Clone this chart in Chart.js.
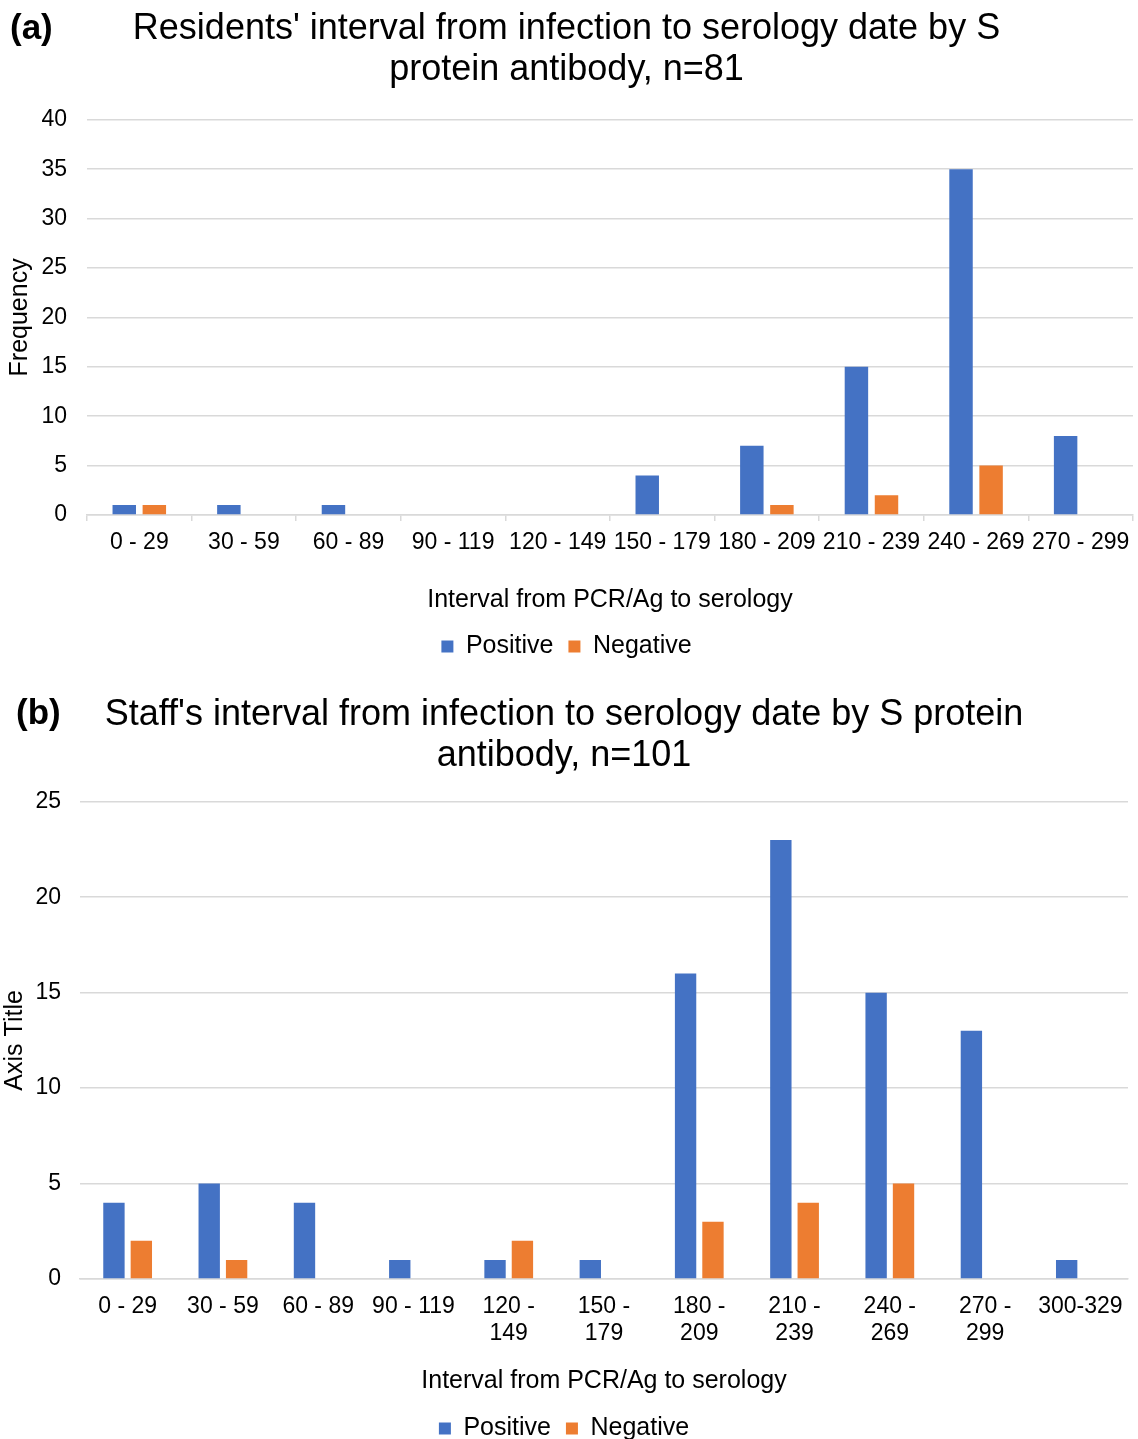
<!DOCTYPE html>
<html>
<head>
<meta charset="utf-8">
<script src="https://cdn.jsdelivr.net/npm/chart.js@4.4.1/dist/chart.umd.min.js"></script>
<style>
    html, body {
        margin: 0;
        padding: 0;
        background: #fff;
        width: 1138px;
        height: 1439px;
        overflow: hidden;
    }
    .wrap {
        position: absolute;
        left: 0;
        width: 1138px;
    }
</style>
</head>
<body>
<div class="wrap" style="top:0;height:669px"><canvas id="residentsChart"></canvas></div>
<div class="wrap" style="top:680px;height:771px"><canvas id="staffChart"></canvas></div>

<script>
// residents (a)
const residentLabels = [
    "0 - 29", "30 - 59", "60 - 89", "90 - 119", "120 - 149",
    "150 - 179", "180 - 209", "210 - 239", "240 - 269", "270 - 299"
];
const residentPositive = [1, 1, 1, 0, 0, 4, 7, 15, 35, 8];
const residentNegative = [1, 0, 0, 0, 0, 0, 1, 2, 5, 0];

// staff (b)
const staffLabels = [
    "0 - 29", "30 - 59", "60 - 89", "90 - 119",
    ["120 -", "149"], ["150 -", "179"], ["180 -", "209"], ["210 -", "239"],
    ["240 -", "269"], ["270 -", "299"], "300-329"
];
const staffPositive = [4, 5, 4, 1, 1, 1, 16, 23, 15, 13, 1];
const staffNegative = [2, 1, 0, 0, 2, 0, 3, 4, 5, 0, 0];

const FONT = "'Liberation Sans', Arial, sans-serif";
const BLUE = "#4472C4";
const ORANGE = "#ED7D31";
const GRID = "#d9d9d9";

Chart.defaults.font.family = FONT;
Chart.defaults.color = "#000";
Chart.defaults.animation = false;

// bold panel letter, top-left
const panelLetter = {
    id: "panelLetter",
    afterDraw(chart, args, opts) {
        const ctx = chart.ctx;
        ctx.save();
        ctx.font = "bold 35px " + FONT;
        ctx.fillStyle = "#000";
        ctx.textBaseline = "middle";
        ctx.textAlign = "left";
        ctx.fillText(opts.text, opts.x, opts.y);
        ctx.restore();
    }
};

function makeChart(id, cfg) {
    return new Chart(document.getElementById(id), {
        type: "bar",
        data: {
            labels: cfg.labels,
            datasets: [
                {
                    label: "Positive",
                    data: cfg.positive,
                    backgroundColor: BLUE,
                    categoryPercentage: 0.575,
                    barPercentage: 0.78
                },
                {
                    label: "Negative",
                    data: cfg.negative,
                    backgroundColor: ORANGE,
                    categoryPercentage: 0.575,
                    barPercentage: 0.78
                }
            ]
        },
        plugins: [panelLetter],
        options: {
            responsive: true,
            maintainAspectRatio: false,
            layout: {
                padding: { left: 0, right: cfg.rightPad, top: 0, bottom: 0 }
            },
            plugins: {
                tooltip: { enabled: false },
                panelLetter: cfg.letter,
                title: {
                    display: true,
                    text: cfg.title,
                    font: { size: 36, weight: "normal", lineHeight: 1.15 },
                    color: "#000",
                    padding: cfg.titlePad
                },
                legend: {
                    position: "bottom",
                    labels: {
                        boxWidth: 12,
                        boxHeight: 12,
                        padding: 15,
                        font: { size: 25 },
                        color: "#000"
                    }
                }
            },
            scales: {
                x: {
                    grid: {
                        display: true,
                        drawOnChartArea: false,
                        drawTicks: cfg.xTicks,
                        tickLength: 6,
                        color: GRID,
                        lineWidth: 1.5
                    },
                    border: { display: true, color: GRID, width: 1.5 },
                    ticks: {
                        font: { size: 23, lineHeight: 1.17 },
                        padding: cfg.xTickPad,
                        maxRotation: 0,
                        autoSkip: false
                    },
                    title: {
                        display: true,
                        text: "Interval from PCR/Ag to serology",
                        font: { size: 25, lineHeight: 1.2 },
                        padding: cfg.xTitlePad
                    }
                },
                y: {
                    min: 0,
                    max: cfg.yMax,
                    grid: {
                        color: GRID,
                        lineWidth: 1.5,
                        drawTicks: false
                    },
                    border: { display: false },
                    ticks: {
                        stepSize: 5,
                        font: { size: 23 },
                        padding: cfg.yTickPad
                    },
                    title: {
                        display: true,
                        text: cfg.yTitle,
                        font: { size: 25, lineHeight: 1.2 },
                        padding: cfg.yTitlePad
                    },
                    afterFit: (scale) => {
                        scale.width = cfg.yWidth;
                    }
                }
            }
        }
    });
}

makeChart("residentsChart", {
    labels: residentLabels,
    positive: residentPositive,
    negative: residentNegative,
    title: ["Residents' interval from infection to serology date by S", "protein antibody, n=81"],
    titlePad: { top: 8, bottom: 29 },
    letter: { text: "(a)", x: 10, y: 29 },
    rightPad: 5,
    xTicks: true,
    xTickPad: 8.5,
    xTitlePad: { top: 20.6, bottom: 3.5 },
    yMax: 40,
    yTitle: "Frequency",
    yTitlePad: { top: 5, bottom: 0 },
    yTickPad: 20,
    yWidth: 87
});

makeChart("staffChart", {
    labels: staffLabels,
    positive: staffPositive,
    negative: staffNegative,
    title: ["Staff's interval from infection to serology date by S protein", "antibody, n=101"],
    titlePad: { top: 14, bottom: 25 },
    letter: { text: "(b)", x: 16, y: 34 },
    rightPad: 10,
    xTicks: false,
    xTickPad: 14.5,
    xTitlePad: { top: 4.7, bottom: 4.5 },
    yMax: 25,
    yTitle: "Axis Title",
    yTitlePad: { top: 0, bottom: 0 },
    yTickPad: 19,
    yWidth: 80
});
</script>
</body>
</html>
